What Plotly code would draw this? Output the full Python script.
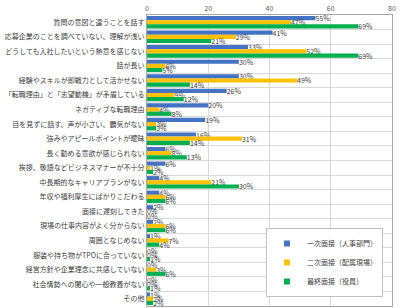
import plotly.graph_objects as go

categories = [
    "質問の意図と違うことを話す",
    "応募企業のことを調べていない、理解が浅い",
    "どうしても入社したいという熱意を感じない",
    "話が長い",
    "経験やスキルが即戦力として活かせない",
    "「転職理由」と「志望動機」が矛盾している",
    "ネガティブな転職理由",
    "目を見ずに話す、声が小さい、覇気がない",
    "強みやアピールポイントが曖昧",
    "長く勤める意欲が感じられない",
    "挨拶、敬語などビジネスマナーが不十分",
    "中長期的なキャリアプランがない",
    "年収や福利厚生にばかりこだわる",
    "面接に遅刻してきた",
    "現場の仕事内容がよく分からない",
    "周囲となじめない",
    "服装や持ち物がTPOに合っていない",
    "経営方針や企業理念に共感していない",
    "社会情勢への関心や一般教養がない",
    "その他",
]
first = [55, 41, 33, 30, 30, 26, 20, 19, 16, 6, 6, 4, 4, 2, 2, 1, 0, 0, 0, 1]
second = [47, 29, 52, 6, 49, 9, 4, 3, 31, 8, 1, 21, 6, 0, 6, 7, 0, 3, 0, 2]
final = [69, 21, 69, 5, 14, 12, 8, 3, 14, 13, 2, 30, 6, 0, 6, 4, 1, 6, 1, 2]

names = ["一次面接（人事部門）", "二次面接（配属現場）", "最終面接（役員）"]
colors = ["#4472C4", "#FFC000", "#00B050"]
tick_vals = [0, 20, 40, 60, 80]

FONT = "Noto Sans CJK JP"
fig = go.Figure()
for name, vals, col in zip(names, [first, second, final], colors):
    fig.add_trace(go.Bar(
        y=categories, x=vals, name=name, orientation="h",
        marker=dict(color=col, line=dict(width=0)),
        text=[f"{v}%" for v in vals], textposition="outside",
        textfont=dict(size=7, color="#404040", family=FONT),
        constraintext="none", cliponaxis=False, showlegend=False,
    ))
# legend entries with small square markers
for name, col in zip(names, colors):
    fig.add_trace(go.Scatter(
        x=[None], y=[None], mode="markers", name=name,
        marker=dict(symbol="square", size=6, color=col),
        showlegend=True,
    ))

fig.update_layout(
    width=400, height=308,
    margin=dict(l=147, r=8, t=15, b=2),
    barmode="group", bargap=0.14, bargroupgap=0,
    plot_bgcolor="white", paper_bgcolor="white",
    font=dict(family=FONT, size=7, color="#404040"),
    legend=dict(
        x=0.963, y=0.268, xanchor="right", yanchor="top",
        bgcolor="white", bordercolor="#BFBFBF", borderwidth=1,
        font=dict(size=7, family=FONT, color="#404040"),
        itemwidth=30, tracegroupgap=0,
    ),
    showlegend=True,
)
fig.update_xaxes(
    range=[0, 80], side="top", tickvals=tick_vals, ticksuffix="%",
    showgrid=True, gridcolor="#D9D9D9", gridwidth=1,
    showline=True, linecolor="#A6A6A6", mirror=True,
    zeroline=False, ticks="", tickfont=dict(size=7, color="#595959"),
)
fig.update_yaxes(
    type="category", autorange="reversed", tickson="boundaries",
    categoryorder="array", categoryarray=categories,
    showgrid=True, gridcolor="#D9D9D9", gridwidth=1,
    showline=True, linecolor="#A6A6A6", mirror=True,
    ticks="", tickfont=dict(size=7, color="#404040"),
)

fig.write_html("out.html")
